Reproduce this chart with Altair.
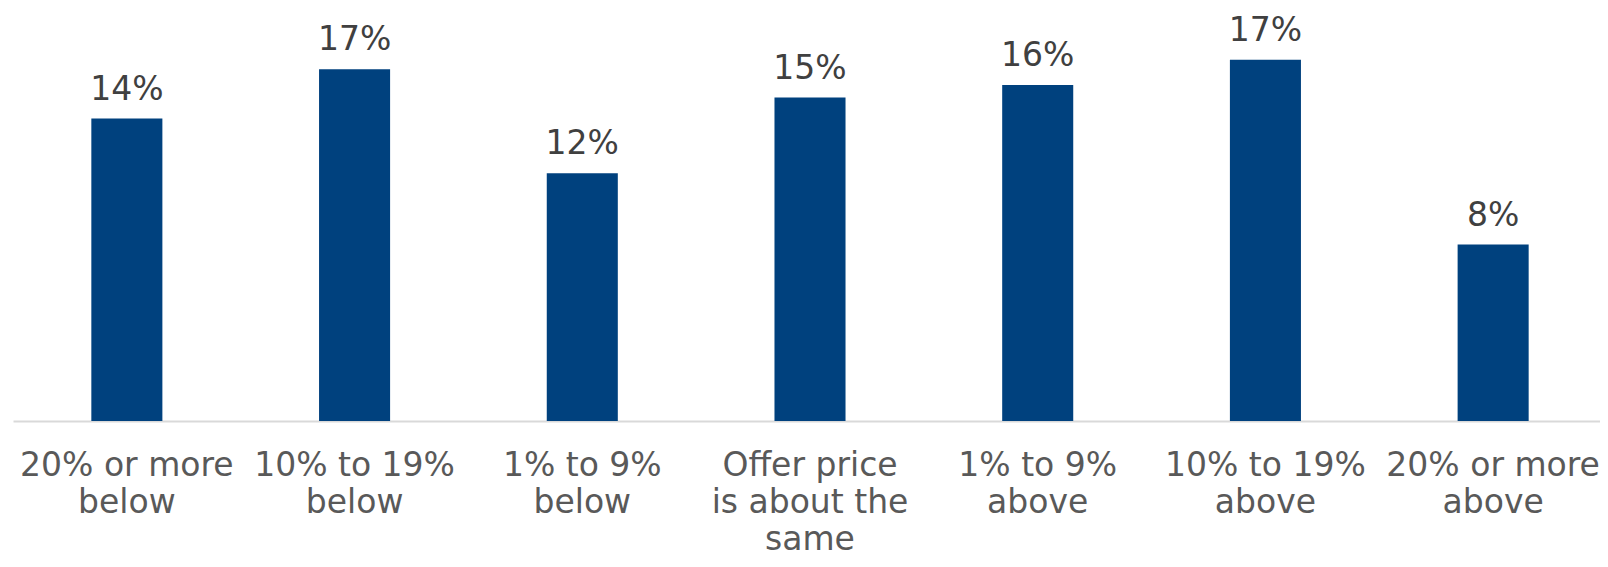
import altair as alt
import pandas as pd

categories = [
    "20% or more\nbelow",
    "10% to 19%\nbelow",
    "1% to 9%\nbelow",
    "Offer price\nis about the\nsame",
    "1% to 9%\nabove",
    "10% to 19%\nabove",
    "20% or more\nabove",
]
values = [14.4, 16.75, 11.8, 15.4, 16.0, 17.2, 8.4]
value_labels = ["14%", "17%", "12%", "15%", "16%", "17%", "8%"]

df = pd.DataFrame({"category": categories, "value": values, "pct": value_labels})

FONT = "DejaVu Sans"

base = alt.Chart(df).encode(
    x=alt.X(
        "category:N",
        sort=None,
        scale=alt.Scale(range=[0, 1594], paddingInner=0.688, paddingOuter=0.344),
        axis=alt.Axis(
            title=None,
            labelExpr="split(datum.value, '\\n')",
            labelAngle=0,
            labelFont=FONT,
            labelFontSize=33,
            labelColor="#595959",
            labelLineHeight=37,
            labelPadding=28,
            labelLimit=400,
            ticks=False,
            domainColor="#d9d9d9",
            domainWidth=2,
            grid=False,
        ),
    ),
    y=alt.Y("value:Q", scale=alt.Scale(domain=[0, 19.667], nice=False, zero=True), axis=None),
)

bars = base.mark_bar(color="#00417E")
text = base.mark_text(
    dy=-19, baseline="alphabetic", fontSize=33, font=FONT, color="#404040"
).encode(text="pct:N")

chart = (
    (bars + text)
    .properties(
        width=1587,
        height=413,
        padding={"left": 5, "top": 0, "right": 0, "bottom": 138},
        autosize=alt.AutoSizeParams(type="none"),
    )
    .configure_view(stroke=None)
)

chart.save("out.html", embed_options={"renderer": "svg", "actions": False})
